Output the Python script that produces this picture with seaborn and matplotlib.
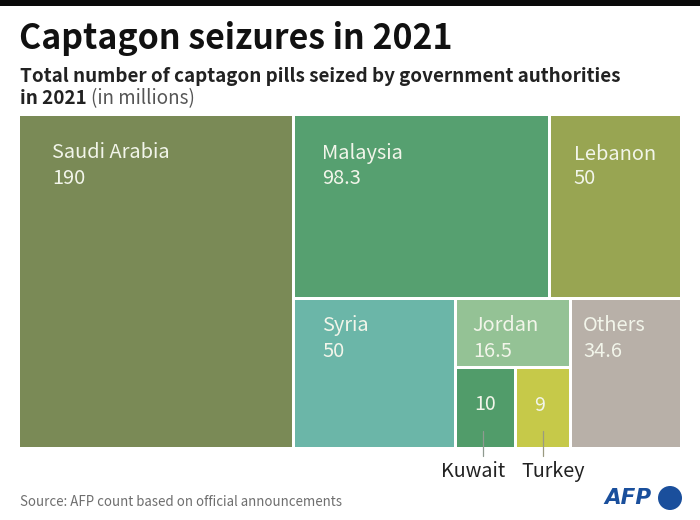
import matplotlib
matplotlib.use("Agg")
import matplotlib.pyplot as plt
import seaborn as sns
from matplotlib.patches import Circle, Rectangle

# Data
names = ["Saudi Arabia", "Malaysia", "Lebanon", "Syria", "Jordan", "Kuwait", "Turkey", "Others"]
values = [190, 98.3, 50, 50, 16.5, 10, 9, 34.6]
labels = ["190", "98.3", "50", "50", "16.5", "10", "9", "34.6"]
colors = ["#7a8a56", "#56a070", "#98a552", "#6bb6a8", "#94c295", "#519c6a", "#c6c949", "#b8b0a8"]

sns.set_theme(style="white")
FONT = "Noto Sans CJK SC"
plt.rcParams["font.family"] = [FONT, "DejaVu Sans"]

W, H = 700, 520
fig = plt.figure(figsize=(W / 100, H / 100), dpi=100, facecolor="white")

# Treemap area, unit square subdivided by the values
L, R, T, B = 19.5, 680, 116, 446.5
ax = fig.add_axes([L / W, 1 - B / H, (R - L) / W, (B - T) / H])
ax.set_xlim(0, 1)
ax.set_ylim(1, 0)
ax.axis("off")

v = dict(zip(names, values))
total = sum(values)
sa_w = v["Saudi Arabia"] / total
rest = total - v["Saudi Arabia"]
top = v["Malaysia"] + v["Lebanon"]
top_h = top / rest
mal_w = (1 - sa_w) * v["Malaysia"] / top
bottom = rest - top
shift = 1.5 / (R - L)
syr_w = (1 - sa_w) * v["Syria"] / bottom + shift
mid = v["Jordan"] + v["Kuwait"] + v["Turkey"]
mid_w = (1 - sa_w) * mid / bottom
jor_h = (1 - top_h) * v["Jordan"] / mid
ku_w = mid_w * v["Kuwait"] / (v["Kuwait"] + v["Turkey"])
x1 = sa_w
x2 = x1 + syr_w
x3 = x2 + mid_w
y1 = top_h
y2 = y1 + jor_h
rects = {
    "Saudi Arabia": (0, 0, sa_w, 1),
    "Malaysia": (x1, 0, mal_w, top_h),
    "Lebanon": (x1 + mal_w, 0, 1 - x1 - mal_w, top_h),
    "Syria": (x1, y1, syr_w, 1 - y1),
    "Jordan": (x2, y1, mid_w, jor_h),
    "Kuwait": (x2, y2, ku_w, 1 - y2),
    "Turkey": (x2 + ku_w, y2, mid_w - ku_w, 1 - y2),
    "Others": (x3, y1, 1 - x3, 1 - y1),
}
gx = 1.5 / (R - L)
gy = 1.5 / (B - T)
TXT = "#f2f5ea"
for n, lab, c in zip(names, labels, colors):
    x, y, w, h = rects[n]
    x0 = x + (gx if x > 0 else 0)
    x1b = x + w - (gx if x + w < 0.999 else 0)
    y0 = y + (gy if y > 0 else 0)
    y1b = y + h - (gy if y + h < 0.999 else 0)
    ax.add_patch(Rectangle((x0, y0), x1b - x0, y1b - y0, facecolor=c, edgecolor="none"))
    if n == "Kuwait":
        ax.text(x + w / 2 - 1 / (R - L), y + 37 / (B - T), lab, color=TXT, fontsize=14,
                ha="center", va="center", fontweight="medium")
    elif n == "Turkey":
        ax.text(x + w / 2 - 3 / (R - L), y + 38 / (B - T), lab, color=TXT, fontsize=14,
                ha="center", va="center", fontweight="medium")
    else:
        dx = {"Saudi Arabia": 32.5, "Malaysia": 29, "Lebanon": 24, "Syria": 29, "Jordan": 17, "Others": 13}[n]
        dy = {"Saudi Arabia": 37, "Malaysia": 38, "Lebanon": 38, "Syria": 27, "Jordan": 27, "Others": 27}[n]
        gap = {"Malaysia": 24.5, "Lebanon": 25}.get(n, 26)
        ax.text(x + dx / (R - L), y + dy / (B - T), n, color=TXT, fontsize=14.4,
                ha="left", va="center", fontweight="medium")
        ax.text(x + dx / (R - L), y + (dy + gap) / (B - T), lab, color=TXT, fontsize=14.4,
                ha="left", va="center", fontweight="medium")

# Overlay in pixel coordinates
ov = fig.add_axes([0, 0, 1, 1], facecolor="none")
ov.set_xlim(0, W)
ov.set_ylim(H, 0)
ov.axis("off")

ov.add_patch(Rectangle((0, 0), W, 6, facecolor="#0a0a0a", edgecolor="none"))
ov.text(19, 39, "Captagon seizures in 2021", fontsize=24.4, fontweight="bold",
        color="#111111", ha="left", va="center")
ov.text(20, 77, "Total number of captagon pills seized by government authorities",
        fontsize=13.55, fontweight="bold", color="#222222", ha="left", va="center")
ov.text(20, 99, "in 2021", fontsize=13.55, fontweight="bold", color="#222222",
        ha="left", va="center")
ov.text(91, 99, "(in millions)", fontsize=13.55, fontweight="light", color="#555555",
        ha="left", va="center")

ov.plot([483, 483], [431, 456], color="#8f9a90", lw=0.9)
ov.plot([543, 543], [431, 456], color="#9a9a80", lw=0.9)
ov.text(473.5, 471.5, "Kuwait", fontsize=14.2, color="#222222", ha="center", va="center")
ov.text(553.5, 471.5, "Turkey", fontsize=14.2, color="#222222", ha="center", va="center")

ov.text(20, 502, "Source: AFP count based on official announcements", fontsize=9.55,
        fontweight="light", color="#6e6e6e", ha="left", va="center")
ov.text(604, 498, "AFP", fontsize=15.5, fontweight="bold", fontstyle="italic", color="#1a4f9c",
        ha="left", va="center", family="DejaVu Sans")
ov.add_patch(Circle((670, 498), 12, facecolor="#1a4f9c", edgecolor="none"))

fig.savefig("out.png", dpi=100, facecolor="white")
